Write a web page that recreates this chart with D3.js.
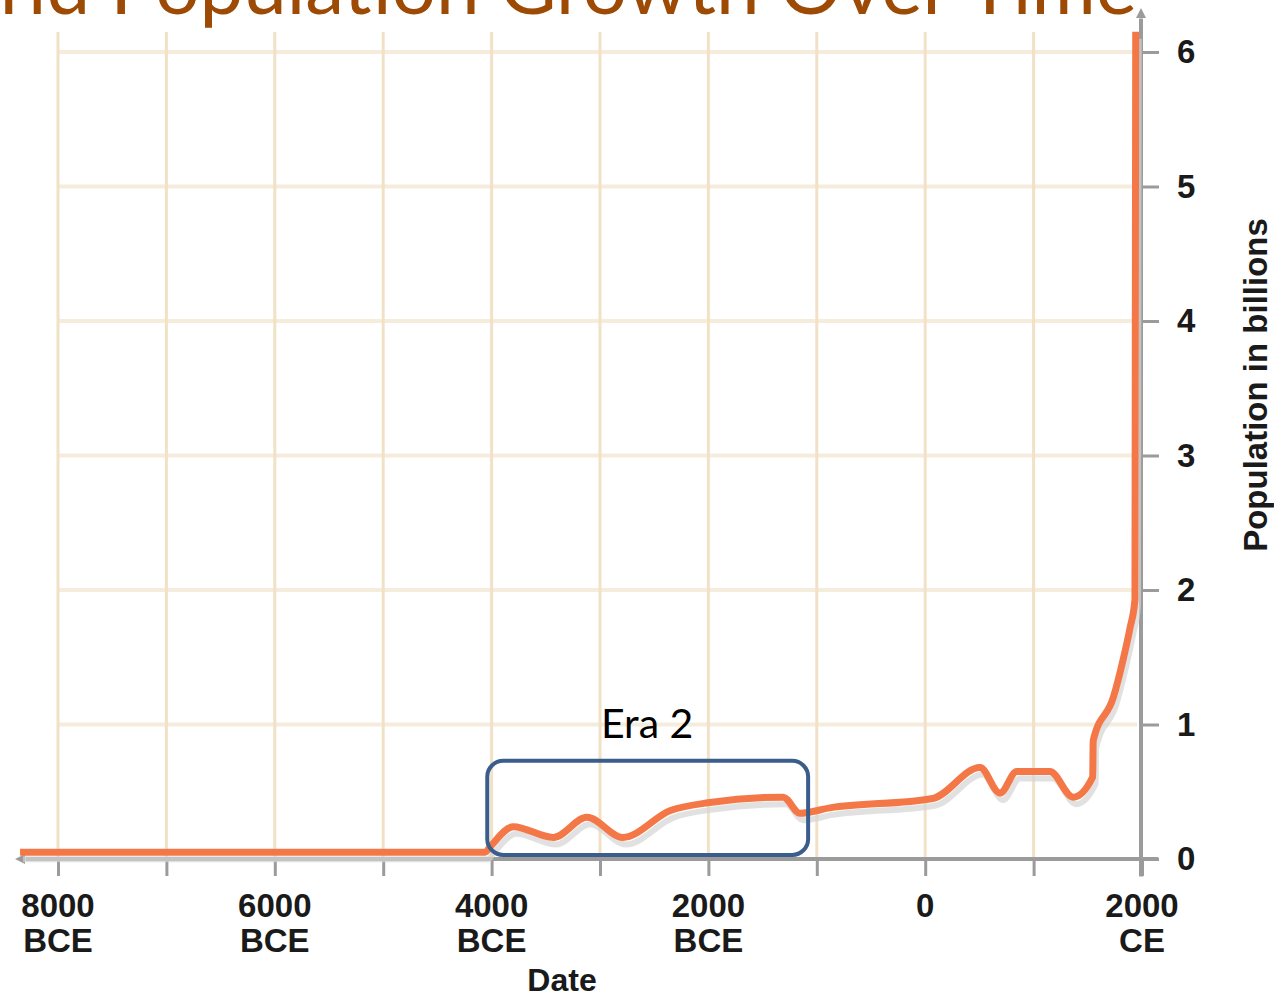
<!DOCTYPE html>
<html><head><meta charset="utf-8">
<script src="https://cdn.jsdelivr.net/npm/d3@7"></script>
<style>html,body{margin:0;padding:0;background:#fff;overflow:hidden}</style>
</head><body>
<svg id="chart" width="1274" height="996"></svg>
<script>
// ---- data ----
const years = [-8350, -4060, -4015, -3800, -3430, -3120, -2790, -2350, -1985, -1310, -1155, -880, 70, 505, 690, 845, 1150, 1365, 1545, 1550, 1735, 1825, 1890, 1935, 1942];
const population = [0.05, 0.05, 0.09, 0.24, 0.16, 0.31, 0.16, 0.36, 0.42, 0.46, 0.34, 0.38, 0.45, 0.68, 0.49, 0.65, 0.65, 0.46, 0.61, 0.88, 1.20, 1.48, 1.72, 1.93, 6.15];
const gridYears = [-8000, -7000, -6000, -5000, -4000, -3000, -2000, -1000, 0, 1000];
const tickYears = [-8000, -7000, -6000, -5000, -4000, -3000, -2000, -1000, 0, 1000, 2000];
const labelYears = [-8000, -6000, -4000, -2000, 0, 2000];
const labelNumbers = ["8000", "6000", "4000", "2000", "0", "2000"];
const labelEras = ["BCE", "BCE", "BCE", "BCE", "", "CE"];
const popTicks = [0, 1, 2, 3, 4, 5, 6];
const gridPop = [1, 2, 3, 4, 5, 6];
const eraName = "Era 2";
const eraStart = -4040, eraEnd = -1080, eraLow = 0.03, eraHigh = 0.73;
const eraLabelYear = -2565, eraLabelValue = 0.9;
const titleText = "World Population Growth Over Time";
const titleVisiblePart = "Population Growth Over Time";
const xTitle = "Date";
const yTitle = "Population in billions";
const xAxisExtent = [-8300, 2150];
const yAxisExtent = [-0.13, 6.25];

// ---- chart ----
const svg = d3.select("#chart");
const x = d3.scaleLinear().domain([-8000, 2000]).range([58, 1142]);
const y = d3.scaleLinear().domain([0, 6]).range([859, 52]);
const axisX = x(2000) - 1, axisY = y(0);
const labelFont = "'Liberation Sans', Arial, Helvetica, sans-serif";

// arrow marker
const defs = svg.append("defs");
defs.append("marker").attr("id", "arrow").attr("viewBox", "0 0 10 10")
  .attr("refX", 0).attr("refY", 5).attr("markerWidth", 2.6).attr("markerHeight", 2.6)
  .attr("orient", "auto-start-reverse").attr("markerUnits", "strokeWidth")
  .append("path").attr("d", "M0,0 L10,5 L0,10 z").attr("fill", "#9b9b9b");

// title
const title = svg.append("text").attr("x", 1137).attr("y", 14)
  .attr("text-anchor", "end").attr("fill", "#9c4a04")
  .style("font-family", "Lato, 'Open Sans', sans-serif").style("font-size", "70px")
  .text(titleText);
const idx = titleText.indexOf(titleVisiblePart);
const partLen = title.node().getSubStringLength(idx, titleVisiblePart.length);
title.style("font-size", (70 * 1027 / partLen) + "px");

// grid
svg.append("g").selectAll("line").data(gridPop).join("line")
  .attr("x1", x(-8000)).attr("x2", axisX - 4)
  .attr("y1", d => y(d)).attr("y2", d => y(d))
  .attr("stroke", "#f5ecdb").attr("stroke-width", 4);
svg.append("g").selectAll("line").data(gridYears).join("line")
  .attr("x1", d => x(d)).attr("x2", d => x(d))
  .attr("y1", y(6) - 20).attr("y2", axisY)
  .attr("stroke", "#f1e2c5").attr("stroke-width", 3);

// x axis
const gx = svg.append("g").attr("transform", `translate(0,${axisY})`)
  .call(d3.axisBottom(x).tickValues(tickYears).tickSize(17).tickFormat(""));
gx.select(".domain").remove();
gx.selectAll(".tick line").attr("stroke", "#9b9b9b").attr("stroke-width", 3);
svg.append("line").attr("x1", x(xAxisExtent[1])).attr("x2", x(xAxisExtent[0]))
  .attr("y1", axisY).attr("y2", axisY)
  .attr("stroke", "#9b9b9b").attr("stroke-width", 4).attr("marker-end", "url(#arrow)");

const xl = svg.append("g").style("font-family", labelFont).style("font-weight", "bold")
  .style("font-size", "33px").attr("fill", "#1a1a1a").attr("text-anchor", "middle");
labelYears.forEach((yr, i) => {
  const t = xl.append("text").attr("x", x(yr)).attr("y", 917);
  t.append("tspan").attr("x", x(yr)).attr("y", 917).text(labelNumbers[i]);
  if (labelEras[i]) t.append("tspan").attr("x", x(yr)).attr("y", 952).text(labelEras[i]);
});
svg.append("text").attr("x", 562).attr("y", 991).attr("text-anchor", "middle")
  .style("font-family", labelFont).style("font-weight", "bold").style("font-size", "32px")
  .attr("fill", "#1a1a1a").text(xTitle);

// y axis
const gy = svg.append("g").attr("transform", `translate(${axisX},0)`)
  .call(d3.axisRight(y).tickValues(popTicks).tickSize(18).tickPadding(18).tickFormat(d3.format("d")));
gy.select(".domain").remove();
gy.selectAll(".tick line").attr("stroke", "#9b9b9b").attr("stroke-width", 3);
gy.selectAll(".tick text").style("font-family", labelFont).style("font-weight", "bold")
  .style("font-size", "33px").attr("fill", "#1a1a1a");
svg.append("line").attr("x1", axisX).attr("x2", axisX)
  .attr("y1", y(yAxisExtent[0])).attr("y2", y(yAxisExtent[1]))
  .attr("stroke", "#9b9b9b").attr("stroke-width", 4).attr("marker-end", "url(#arrow)");
svg.append("text").attr("transform", `translate(1267,385) rotate(-90)`)
  .attr("text-anchor", "middle").style("font-family", labelFont).style("font-weight", "bold")
  .style("font-size", "33px").attr("fill", "#1a1a1a").text(yTitle);

// line
const pts = years.map((yr, i) => ({ year: yr, pop: population[i] }));
const lineGen = d3.line().x(d => x(d.year)).y(d => y(d.pop)).curve(d3.curveMonotoneX);
svg.append("path").datum(pts).attr("d", lineGen).attr("transform", "translate(3,7)")
  .attr("fill", "none").attr("stroke", "#d4d4d4").attr("stroke-opacity", 0.7)
  .attr("stroke-width", 6).attr("stroke-linejoin", "round");
svg.append("path").datum(pts).attr("d", lineGen)
  .attr("fill", "none").attr("stroke", "#f47847").attr("stroke-width", 7)
  .attr("stroke-linejoin", "round");

// era annotation
svg.append("rect").attr("x", x(eraStart)).attr("y", y(eraHigh))
  .attr("width", x(eraEnd) - x(eraStart)).attr("height", y(eraLow) - y(eraHigh))
  .attr("rx", 16).attr("fill", "none").attr("stroke", "#3a5d8c").attr("stroke-width", 4);
svg.append("text").attr("x", x(eraLabelYear)).attr("y", y(eraLabelValue))
  .attr("text-anchor", "middle").style("font-family", "Lato, 'Open Sans', sans-serif")
  .style("font-size", "41px").attr("fill", "#000").text(eraName);
</script>
</body></html>
